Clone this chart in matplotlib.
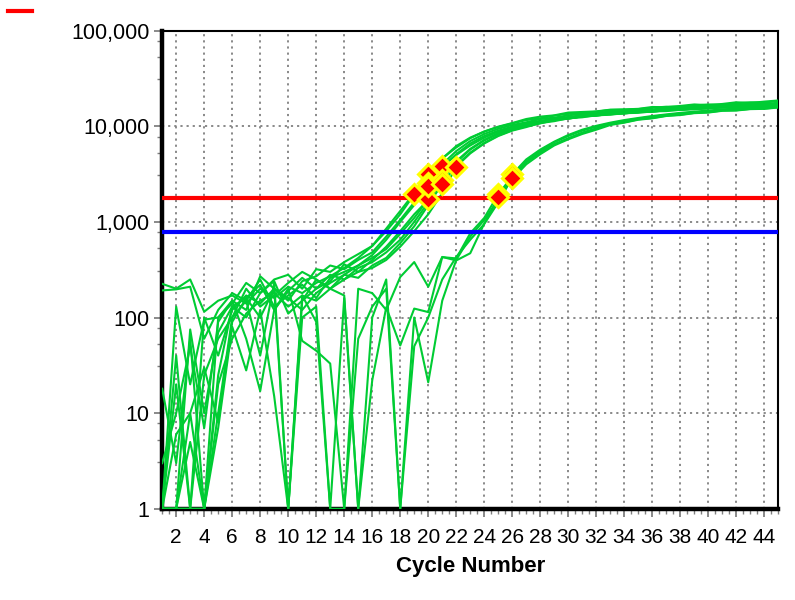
import numpy as np
import matplotlib
matplotlib.use("Agg")
import matplotlib.pyplot as plt
from matplotlib.lines import Line2D
from matplotlib.ticker import FixedLocator, LogLocator, NullFormatter

plt.rcParams["font.family"] = ["Liberation Sans", "DejaVu Sans"]

cycles = np.arange(1, 46)

# fluorescence per well (early group, Ct 19-22)
e1 = [225, 200, 250, 115, 150, 170, 140, 200, 160, 210, 180, 230, 270, 330, 420, 560, 800, 1200, 1940, 3000,
      4600, 6000, 7500, 8800, 9900, 10800, 11900, 12600, 13000, 13900, 14100, 14300, 14900, 15000, 15200,
      15900, 15800, 16300, 16900, 16600, 17100, 17800, 17500, 18100, 18600]
e2 = [192, 197, 210, 60, 120, 180, 150, 250, 130, 170, 220, 160, 260, 300, 350, 420, 520, 750, 1100, 1720,
      2900, 4300, 5800, 7200, 8500, 9600, 10400, 11000, 11800, 12100, 12700, 13300, 13300, 13800, 14300,
      14300, 14600, 15200, 15200, 15500, 16100, 15900, 16300, 16700, 16600]
e3 = [1, 130, 20, 95, 100, 140, 230, 180, 250, 280, 200, 320, 300, 380, 460, 560, 850, 1300, 2000, 3140,
      4600, 6200, 7600, 8800, 9800, 10700, 11600, 12100, 12900, 13500, 13700, 14200, 14800, 14900, 15100,
      15600, 16000, 16000, 16500, 16900, 16800, 17400, 17800, 17700, 18300]
e4 = [18, 3, 60, 1, 100, 150, 120, 270, 200, 150, 240, 270, 350, 320, 400, 480, 700, 1050, 1600, 2580,
      4000, 5500, 7000, 8300, 9400, 10300, 11000, 11900, 12300, 13000, 13500, 13700, 14300, 14400, 14900,
      15000, 15500, 15600, 16100, 16200, 16700, 16800, 17200, 17100, 17600]
e5 = [1, 40, 1, 25, 60, 100, 200, 130, 170, 230, 300, 250, 200, 280, 350, 450, 650, 1000, 1500, 2400,
      3700, 5100, 6600, 7900, 9000, 9900, 10800, 11300, 12100, 12400, 13100, 13300, 13900, 14000, 14500,
      14600, 15100, 15200, 15700, 15800, 16300, 16300, 16700, 16700, 17100]
e6 = [1, 6, 10, 30, 8, 90, 160, 220, 120, 190, 260, 200, 240, 360, 300, 400, 550, 800, 1200, 1700,
      3820, 5000, 6300, 7600, 8800, 9800, 10500, 11400, 11800, 12500, 12800, 13400, 13600, 14100, 14200,
      14700, 14800, 15300, 15400, 15900, 16000, 16400, 16400, 16800, 16800]
e7 = [1, 1, 75, 10, 70, 130, 100, 180, 240, 110, 150, 200, 280, 250, 330, 380, 480, 650, 1000, 1600,
      2760, 4200, 5700, 7100, 8300, 9300, 10200, 10900, 11700, 12000, 12700, 12900, 13500, 13600, 14100,
      14200, 14700, 14800, 15300, 15400, 15800, 15800, 16200, 16200, 16600]
e8 = [1, 20, 1, 100, 40, 120, 170, 140, 200, 160, 120, 180, 230, 280, 260, 350, 420, 600, 900, 1500,
      2500, 3900, 5300, 6700, 8000, 9100, 10000, 10700, 11600, 12000, 12700, 12900, 13500, 13600, 14100,
      14200, 14700, 14800, 15300, 15400, 15900, 15900, 16300, 16300, 16700]
e9 = [1, 1, 5, 1, 20, 60, 110, 150, 180, 130, 170, 150, 200, 250, 300, 330, 400, 550, 800, 1200,
      2000, 3780, 5200, 6600, 7900, 9000, 9800, 10800, 11300, 12100, 12400, 13000, 13200, 13700, 13800,
      14300, 14400, 14900, 15000, 15500, 15600, 16000, 16000, 16400, 16400]
# late group, Ct 25-26
l1 = [1, 1, 1, 1, 7, 80, 28, 120, 15, 1, 100, 130, 1, 160, 1, 22, 128, 51, 124, 114,
      428, 415, 760, 1100, 1940, 3000, 4200, 5300, 6500, 7500, 8600, 9500, 10500, 11000, 11800,
      12200, 12900, 13200, 13800, 14000, 14600, 14700, 15200, 15300, 15800]
l2 = [3, 10, 50, 7, 90, 150, 60, 17, 120, 200, 57, 45, 33, 1, 200, 180, 120, 265, 380, 210,
      430, 395, 470, 960, 1800, 2800, 4000, 5100, 6300, 7300, 8300, 9200, 10300, 10900, 11700,
      12100, 12800, 13100, 13700, 13900, 14500, 14600, 15100, 15200, 15700]
l3 = [1, 1, 10, 1, 25, 130, 160, 100, 200, 1, 150, 250, 200, 170, 1, 100, 250, 1, 100, 21,
      150, 400, 700, 1050, 1700, 3140, 4500, 5700, 6900, 8100, 9200, 10100, 10900, 11600, 12200,
      12800, 13300, 13800, 14200, 14600, 15000, 15300, 15600, 15900, 16200]
l4 = [1, 1, 1, 1, 10, 100, 150, 40, 230, 1, 170, 90, 1, 1, 60, 130, 200, 1, 50, 100,
      250, 430, 650, 950, 1600, 2900, 4300, 5500, 6800, 7900, 9000, 9900, 10700, 11400, 12000,
      12600, 13100, 13600, 14000, 14400, 14800, 15100, 15400, 15700, 16000]
wells = [e1, e2, e3, e4, e5, e6, e7, e8, e9, l1, l2, l3, l4]

# Ct calls (cycle, fluorescence)
ct_cycle = [19, 20, 20, 20, 20, 21, 21, 21, 22, 25, 25, 26, 26]
ct_value = [1940, 1720, 3140, 2580, 2400, 3820, 2760, 2500, 3780, 1940, 1800, 3140, 2900]

threshold = 1780
baseline_level = 785

y_ticks = [1, 10, 100, 1000, 10000, 100000]
y_labels = ["1", "10", "100", "1,000", "10,000", "100,000"]
x_ticks = list(range(2, 45, 2))

fig = plt.figure(figsize=(7.95, 6.0), dpi=100)
ax = fig.add_axes([0.204, 0.152, 0.775, 0.797])

for w in wells:
    ax.plot(cycles, np.clip(w, 1, None), color="#00cc33", lw=1.5, zorder=3)
ax.axhline(threshold, color="#ff0000", lw=3, zorder=4)
ax.axhline(baseline_level, color="#0000ff", lw=3, zorder=4)
ax.plot(ct_cycle, ct_value, ls="none", marker="D", ms=10, mfc="#ff0000",
        mec="#ffff00", mew=2.2, zorder=5)

ax.set_yscale("log")
ax.set_xlim(1, 45)
ax.set_ylim(1, 100000)
ax.yaxis.set_major_locator(FixedLocator(y_ticks))
ax.set_yticklabels(y_labels)
ax.yaxis.set_minor_locator(LogLocator(base=10, subs=(3.1, 5.3, 7.8)))
ax.yaxis.set_minor_formatter(NullFormatter())
ax.set_xticks(x_ticks)
ax.set_xticks(np.arange(1, 45.01, 0.5), minor=True)

ax.grid(True, which="major", color="#808080", ls=(0, (1.2, 2.2)), lw=1.3, zorder=0)
ax.tick_params(which="both", direction="out", color="#808080", labelsize=15)
ax.tick_params(which="major", length=6, width=1.3, pad=8)
ax.tick_params(which="minor", length=3.5, width=1.0)
ax.tick_params(axis="y", which="major", pad=3, labelsize=15.5)

for side in ("left", "bottom"):
    ax.spines[side].set_linewidth(3.2)
for side in ("top", "right"):
    ax.spines[side].set_linewidth(1.5)

ax.set_xlabel("Cycle Number", fontsize=16, fontweight="bold", labelpad=6)

# stray legend swatch in the corner
fig.add_artist(Line2D([8 / 795, 32 / 795], [1 - 11 / 600, 1 - 11 / 600], color="#ff0000", lw=3))

fig.savefig("out.png", dpi=100)
